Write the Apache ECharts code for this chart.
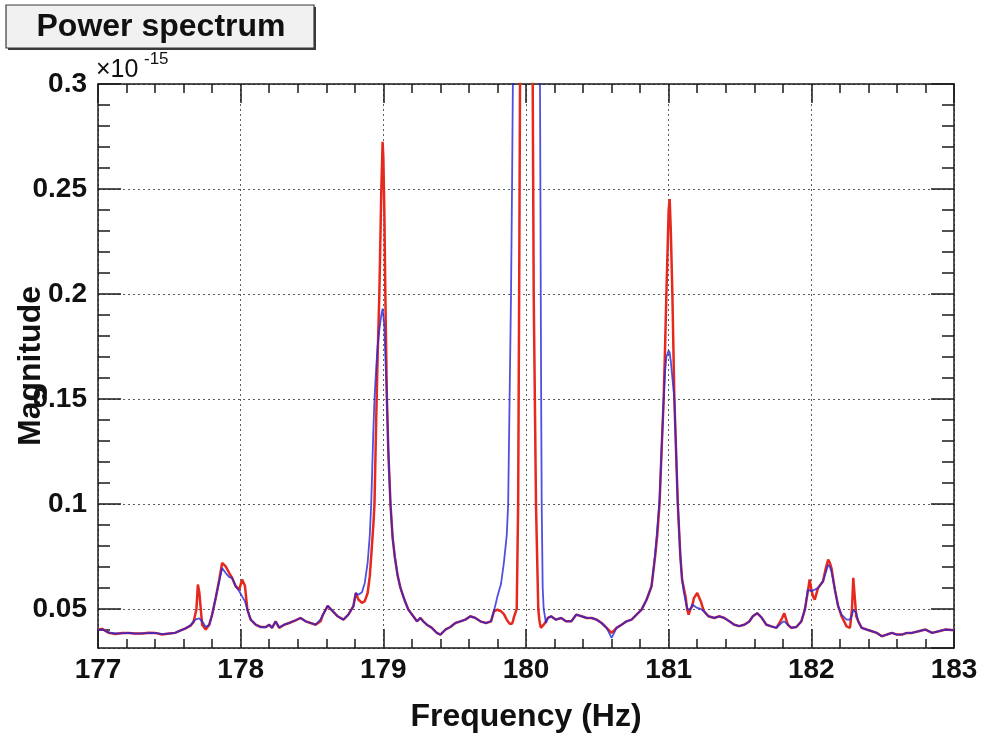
<!DOCTYPE html>
<html>
<head>
<meta charset="utf-8">
<script src="https://cdn.jsdelivr.net/npm/echarts@6/dist/echarts.min.js"></script>
<style>
html,body{margin:0;padding:0;background:#fff;}
#chart{width:983px;height:742px;}
</style>
</head>
<body>
<div id="chart"></div>
<script>
// Frequency (Hz)
const freq = [
177.00,177.03,177.075,177.12,177.17,177.215,177.26,177.31,177.355,177.40,
177.45,177.50,177.54,177.58,177.61,177.65,177.67,177.69,177.70,177.71,
177.73,177.755,177.78,177.80,177.825,177.85,177.87,177.895,177.92,177.94,
177.965,177.99,178.01,178.03,178.047,178.07,178.105,178.14,178.175,178.20,
178.22,178.245,178.27,178.305,178.34,178.385,178.42,178.455,178.49,178.525,
178.56,178.575,178.61,178.645,178.68,178.72,178.755,178.79,178.807,178.825,
178.85,178.87,178.89,178.905,178.915,178.93,178.938,178.95,178.96,178.972,
178.986,178.995,179.00,179.007,179.014,179.025,179.035,179.05,179.065,179.08,
179.10,179.12,179.15,179.175,179.21,179.235,179.26,179.28,179.305,179.34,
179.375,179.40,179.435,179.47,179.505,179.54,179.575,179.61,179.645,179.68,
179.72,179.755,179.775,179.80,179.825,179.845,179.865,179.875,179.885,179.895,
179.902,179.908,179.915,179.935,179.945,179.952,179.958,179.965,180.00,180.035,
180.047,180.054,180.07,180.086,180.093,180.098,180.101,180.104,180.107,180.11,
180.117,180.124,180.14,180.153,180.176,180.21,180.247,180.28,180.318,180.353,
180.39,180.425,180.46,180.495,180.53,180.565,180.60,180.635,180.67,180.705,
180.74,180.775,180.81,180.845,180.88,180.905,180.92,180.936,180.95,180.965,
180.975,180.984,181.00,181.007,181.015,181.026,181.04,181.052,181.064,181.082,
181.094,181.106,181.118,181.13,181.14,181.153,181.165,181.176,181.20,181.225,
181.247,181.28,181.32,181.355,181.39,181.425,181.46,181.495,181.53,181.565,
181.59,181.62,181.65,181.685,181.72,181.755,181.79,181.81,181.835,181.86,
181.895,181.93,181.955,181.975,181.988,182.00,182.012,182.024,182.047,182.082,
182.10,182.118,182.13,182.141,182.165,182.188,182.212,182.247,182.271,182.285,
182.294,182.305,182.315,182.329,182.353,182.388,182.424,182.459,182.494,182.529,
182.565,182.60,182.635,182.67,182.705,182.753,182.80,182.847,182.894,182.94,
183.00
];
// Magnitude (x10^-15), red trace
const magRed = [
.0402,.0405,.0386,.0381,.0385,.0386,.0383,.0383,.0387,.0386,
.0378,.0383,.0386,.0398,.0406,.0421,.0438,.0500,.0616,.0580,
.0425,.0402,.0425,.0473,.0552,.0640,.0719,.0703,.0671,.0648,
.0608,.0592,.0640,.0610,.0497,.0449,.0425,.0414,.0414,.0425,
.0410,.0441,.0410,.0425,.0433,.0446,.0457,.0441,.0433,.0425,
.0441,.0470,.0515,.0490,.0465,.0449,.0473,.0513,.0576,.0545,
.0529,.0537,.0576,.0656,.0750,.0900,.1000,.1400,.1700,.2000,
.2500,.2725,.2650,.2400,.2000,.1500,.1250,.1000,.0840,.0750,
.0660,.0600,.0540,.0497,.0465,.0441,.0457,.0441,.0425,.0410,
.0386,.0378,.0402,.0414,.0433,.0441,.0449,.0465,.0457,.0441,
.0433,.0441,.0489,.0497,.0489,.0475,.0449,.0440,.0430,.0425,
.0430,.0440,.0460,.0500,.1000,.2000,.3000,.6000,3.000,.6000,
.3000,.2000,.1000,.0500,.0450,.0430,.0420,.0410,.0405,.0405,
.0410,.0425,.0440,.0457,.0465,.0449,.0457,.0441,.0441,.0473,
.0465,.0457,.0457,.0449,.0433,.0410,.0386,.0410,.0425,.0441,
.0449,.0473,.0497,.0544,.0608,.0750,.0850,.1000,.1250,.1500,
.1750,.2000,.2400,.2452,.2300,.2000,.1500,.1250,.1000,.0750,
.0640,.0600,.0560,.0497,.0473,.0500,.0513,.0550,.0576,.0537,
.0489,.0465,.0457,.0465,.0457,.0441,.0425,.0418,.0425,.0440,
.0465,.0480,.0460,.0425,.0417,.0410,.0449,.0480,.0425,.0410,
.0414,.0441,.0497,.0580,.0640,.0592,.0560,.0544,.0600,.0632,
.0690,.0735,.0720,.0695,.0592,.0513,.0465,.0417,.0410,.0500,
.0648,.0550,.0465,.0441,.0410,.0402,.0394,.0386,.0370,.0378,
.0386,.0378,.0378,.0386,.0386,.0394,.0402,.0386,.0394,.0402,
.0399
];
// Magnitude (x10^-15), blue trace
const magBlue = [
.0400,.0403,.0388,.0383,.0384,.0386,.0382,.0384,.0385,.0386,
.0380,.0383,.0386,.0398,.0406,.0423,.0441,.0452,.0457,.0455,
.0441,.0414,.0425,.0473,.0552,.0632,.0695,.0671,.0652,.0648,
.0608,.0584,.0560,.0537,.0497,.0449,.0425,.0414,.0412,.0425,
.0410,.0441,.0412,.0425,.0433,.0446,.0457,.0441,.0433,.0425,
.0450,.0470,.0515,.0490,.0465,.0449,.0473,.0513,.0576,.0568,
.0580,.0624,.0720,.0850,.1000,.1350,.1500,.1650,.1750,.1830,
.1900,.1930,.1933,.1850,.1700,.1500,.1250,.1000,.0840,.0750,
.0660,.0600,.0540,.0497,.0465,.0441,.0457,.0441,.0425,.0410,
.0386,.0378,.0402,.0414,.0433,.0441,.0449,.0465,.0457,.0441,
.0433,.0441,.0489,.0560,.0620,.0720,.0850,.1000,.1500,.2000,
.2500,.3000,.5000,1.200,1.600,1.900,2.100,2.400,3.000,2.400,
2.000,1.700,1.200,.6000,.4000,.3000,.2500,.1900,.1400,.1000,
.0600,.0500,.0433,.0457,.0465,.0449,.0457,.0441,.0441,.0473,
.0465,.0457,.0457,.0449,.0433,.0410,.0362,.0410,.0425,.0441,
.0449,.0473,.0497,.0544,.0608,.0760,.0880,.1020,.1250,.1500,
.1630,.1700,.1730,.1720,.1680,.1600,.1500,.1250,.1000,.0750,
.0640,.0580,.0540,.0500,.0497,.0497,.0521,.0521,.0505,.0500,
.0489,.0465,.0457,.0465,.0457,.0441,.0425,.0418,.0425,.0440,
.0465,.0480,.0460,.0425,.0417,.0410,.0433,.0441,.0425,.0410,
.0414,.0441,.0497,.0592,.0600,.0584,.0588,.0592,.0600,.0632,
.0670,.0711,.0700,.0679,.0592,.0513,.0473,.0449,.0449,.0470,
.0497,.0490,.0481,.0441,.0410,.0402,.0394,.0386,.0370,.0378,
.0386,.0378,.0378,.0386,.0386,.0394,.0402,.0386,.0394,.0402,
.0399
];
const titleText = 'Power spectrum';
const xTitle = 'Frequency (Hz)';
const yTitle = 'Magnitude';

const FONT = '"Liberation Sans", Arial, Helvetica, sans-serif';
const AX = '#1a1a1a';
const chart = echarts.init(document.getElementById('chart'), null, {renderer: 'canvas'});

const tickStyle = {color: AX, width: 1.5};
const gridStyle = {color: '#5e5e5e', width: 1, type: [2, 3]};
const labelStyle = {fontFamily: FONT, fontWeight: 'bold', fontSize: 28, color: '#111'};

const option = {
  backgroundColor: '#ffffff',
  animation: false,
  grid: [
    {left: 98, right: 29, top: 84, bottom: 94},
    {left: 98, right: 29, top: 84, bottom: 112}
  ],
  xAxis: [
    {type: 'value', gridIndex: 0, position: 'bottom', min: 177, max: 183, interval: 1,
     axisLine: {show: true, onZero: false, lineStyle: {color: AX, width: 1.5}},
     axisTick: {show: true, inside: true, length: 19, lineStyle: tickStyle},
     minorTick: {show: true, splitNumber: 5, length: 9, lineStyle: tickStyle},
     splitLine: {show: true, lineStyle: gridStyle},
     axisLabel: Object.assign({margin: 8}, labelStyle)},
    {type: 'value', gridIndex: 0, position: 'top', min: 177, max: 183, interval: 1,
     axisLine: {show: true, onZero: false, lineStyle: {color: AX, width: 1.5}},
     axisTick: {show: true, inside: true, length: 19, lineStyle: tickStyle},
     minorTick: {show: true, splitNumber: 5, length: 9, lineStyle: tickStyle},
     splitLine: {show: false}, axisLabel: {show: false}},
    {type: 'value', gridIndex: 1, min: 177, max: 183, show: false}
  ],
  yAxis: [
    {type: 'value', gridIndex: 0, position: 'left', min: 0.0314, max: 0.3, splitNumber: 5,
     axisLine: {show: true, onZero: false, lineStyle: {color: AX, width: 1.5}},
     axisTick: {show: true, inside: true, length: 23, lineStyle: tickStyle},
     minorTick: {show: false},
     splitLine: {show: true, lineStyle: gridStyle},
     axisLabel: Object.assign({margin: 11, showMinLabel: false}, labelStyle)},
    {type: 'value', gridIndex: 0, position: 'right', min: 0.0314, max: 0.3, splitNumber: 5,
     axisLine: {show: true, onZero: false, lineStyle: {color: AX, width: 1.5}},
     axisTick: {show: true, inside: true, length: 23, lineStyle: tickStyle},
     splitLine: {show: false}, axisLabel: {show: false}},
    {type: 'value', gridIndex: 1, position: 'left', min: 0.04, max: 0.3, interval: 0.01,
     axisLine: {show: false}, splitLine: {show: false}, axisLabel: {show: false},
     axisTick: {show: true, inside: true, length: 12, lineStyle: tickStyle}},
    {type: 'value', gridIndex: 1, position: 'right', min: 0.04, max: 0.3, interval: 0.01,
     axisLine: {show: false}, splitLine: {show: false}, axisLabel: {show: false},
     axisTick: {show: true, inside: true, length: 12, lineStyle: tickStyle}}
  ],
  series: [
    {type: 'line', name: 'red', xAxisIndex: 0, yAxisIndex: 0, clip: true,
     showSymbol: false, symbol: 'none', smooth: false,
     lineStyle: {color: '#e5291f', width: 2.5},
     data: freq.map((f, i) => [f, magRed[i]])},
    {type: 'line', name: 'blue', xAxisIndex: 0, yAxisIndex: 0, clip: true,
     showSymbol: false, symbol: 'none', smooth: false,
     lineStyle: {color: '#2424d8', width: 1.8, opacity: 0.8},
     data: freq.map((f, i) => [f, magBlue[i]])}
  ],
  graphic: {elements: [
    {type: 'rect', shape: {x: 8, y: 7, width: 308, height: 43}, style: {fill: '#3a3a3a'}, z: 10},
    {type: 'rect', shape: {x: 6, y: 5, width: 308, height: 43},
     style: {fill: '#f1f1f1', stroke: '#3a3a3a', lineWidth: 1.2}, z: 11},
    {type: 'text', x: 161, y: 27, z: 12,
     style: {text: titleText, font: 'bold 32px ' + FONT, fill: '#111',
             textAlign: 'center', textVerticalAlign: 'middle'}},
    {type: 'text', x: 96, y: 83, z: 12,
     style: {text: '\u00d710', font: '25px ' + FONT, fill: '#111',
             textAlign: 'left', textVerticalAlign: 'bottom'}},
    {type: 'text', x: 144, y: 51, z: 12,
     style: {text: '-15', font: '17px ' + FONT, fill: '#111',
             textAlign: 'left', textVerticalAlign: 'top'}},
    {type: 'text', x: 31, y: 366, rotation: Math.PI / 2, z: 12,
     style: {text: yTitle, font: 'bold 32px ' + FONT, fill: '#111',
             textAlign: 'center', textVerticalAlign: 'middle'}},
    {type: 'text', x: 526, y: 717, z: 12,
     style: {text: xTitle, font: 'bold 32px ' + FONT, fill: '#111',
             textAlign: 'center', textVerticalAlign: 'middle'}}
  ]}
};
chart.setOption(option);
</script>
</body>
</html>
